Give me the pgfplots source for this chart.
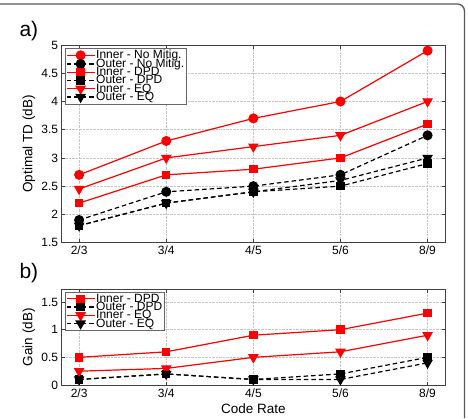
\documentclass[border=0pt]{standalone}
\usepackage{pgfplots}
\pgfplotsset{compat=1.18}
\usepackage{fontspec}
\setmainfont{Liberation Sans}
\definecolor{mred}{RGB}{255,0,0}
\pgfplotsset{
  mystyle/.style={
    scale only axis,
    anchor=south west,
    width=383.3pt,
    xmin=-0.2, xmax=4.2,
    xtick={0,1,2,3,4},
    xticklabels={2/3,3/4,4/5,5/6,8/9},
    tick align=inside,
    major tick length=3.5pt,
    grid=major,
    major grid style={densely dotted, gray!45, line width=0.5pt},
    axis line style={line width=0.6pt, black!75},
    tick style={black!75, line width=0.5pt},
    /pgf/number format/assume math mode=true,
    tick label style={font=\fontsize{12}{12}\selectfont},
    label style={font=\fontsize{13.5}{14}\selectfont},
    legend cell align=left,
    legend style={at={(0.008,0.985)}, anchor=north west, draw=black!60, line width=0.5pt,
      font=\fontsize{12}{10}\selectfont, inner sep=1pt, row sep=-3.6pt,
      nodes={inner sep=1pt}},
    legend image code/.code={
      \draw[mark repeat=2,mark phase=2] plot coordinates {(0pt,0pt)(14pt,0pt)(28pt,0pt)};
    },
    every axis plot/.append style={line width=1.2pt},
  },
  inr/.style={mred, solid},
  outr/.style={black, dash pattern=on 4.5pt off 3pt},
}
\begin{document}
\begin{tikzpicture}
\draw[black!65, line width=1.3pt, rounded corners=7pt] (0pt,414pt) -- (464.5pt,414pt) -- (464.5pt,0pt);
\begin{axis}[mystyle, at={(61.7pt,175.4pt)}, height=197.6pt,
  ymin=1.5, ymax=5, ytick={1.5,2,...,5},
  yticklabels={1.5,2,2.5,3,3.5,4,4.5,5},
  ylabel={Optimal TD (dB)},
  ylabel style={at={(axis description cs:-0.06,0.5)}, anchor=south}]
\addplot[inr, mark=*, mark size=4.4pt, mark options={solid}] coordinates {(0,2.7)(1,3.3)(2,3.7)(3,4.0)(4,4.9)};
\addlegendentry{Inner - No Mitig.}
\addplot[outr, mark=*, mark size=4.4pt, mark options={solid}] coordinates {(0,1.9)(1,2.4)(2,2.5)(3,2.7)(4,3.4)};
\addlegendentry{Outer - No Mitig.}
\addplot[inr, mark=square*, mark size=3.6pt, mark options={solid}] coordinates {(0,2.2)(1,2.7)(2,2.8)(3,3.0)(4,3.6)};
\addlegendentry{Inner - DPD}
\addplot[outr, mark=square*, mark size=3.6pt, mark options={solid}] coordinates {(0,1.8)(1,2.2)(2,2.4)(3,2.5)(4,2.9)};
\addlegendentry{Outer - DPD}
\addplot[inr, mark=triangle*, mark size=5pt, mark options={solid, rotate=180}] coordinates {(0,2.45)(1,3.0)(2,3.2)(3,3.4)(4,4.0)};
\addlegendentry{Inner - EQ}
\addplot[outr, mark=triangle*, mark size=5pt, mark options={solid, rotate=180}] coordinates {(0,1.8)(1,2.2)(2,2.4)(3,2.6)(4,3.0)};
\addlegendentry{Outer - EQ}
\end{axis}
\begin{axis}[mystyle, at={(61.7pt,33pt)}, height=95.7pt,
  ymin=0, ymax=1.73, ytick={0,0.5,1,1.5},
  yticklabels={0,0.5,1,1.5},
  ylabel={Gain (dB)},
  ylabel style={at={(axis description cs:-0.06,0.5)}, anchor=south},
  xlabel={Code Rate},
  xlabel style={at={(axis description cs:0.5,0)}, anchor=base, yshift=-28.5pt},
  legend style={at={(0.008,0.975)}}]
\addplot[inr, mark=square*, mark size=3.6pt, mark options={solid}] coordinates {(0,0.5)(1,0.6)(2,0.9)(3,1.0)(4,1.3)};
\addlegendentry{Inner - DPD}
\addplot[outr, mark=square*, mark size=3.6pt, mark options={solid}] coordinates {(0,0.1)(1,0.2)(2,0.1)(3,0.2)(4,0.5)};
\addlegendentry{Outer - DPD}
\addplot[inr, mark=triangle*, mark size=5pt, mark options={solid, rotate=180}] coordinates {(0,0.25)(1,0.3)(2,0.5)(3,0.6)(4,0.9)};
\addlegendentry{Inner - EQ}
\addplot[outr, mark=triangle*, mark size=5pt, mark options={solid, rotate=180}] coordinates {(0,0.1)(1,0.2)(2,0.1)(3,0.1)(4,0.4)};
\addlegendentry{Outer - EQ}
\end{axis}
\node[font=\fontsize{21}{21}\selectfont, anchor=base west] at (16pt,381pt) {a)};
\node[font=\fontsize{21}{21}\selectfont, anchor=base west] at (16pt,140pt) {b)};
\pgfresetboundingbox
\path[use as bounding box] (0pt,0pt) rectangle (468pt,418pt);
\end{tikzpicture}
\end{document}
